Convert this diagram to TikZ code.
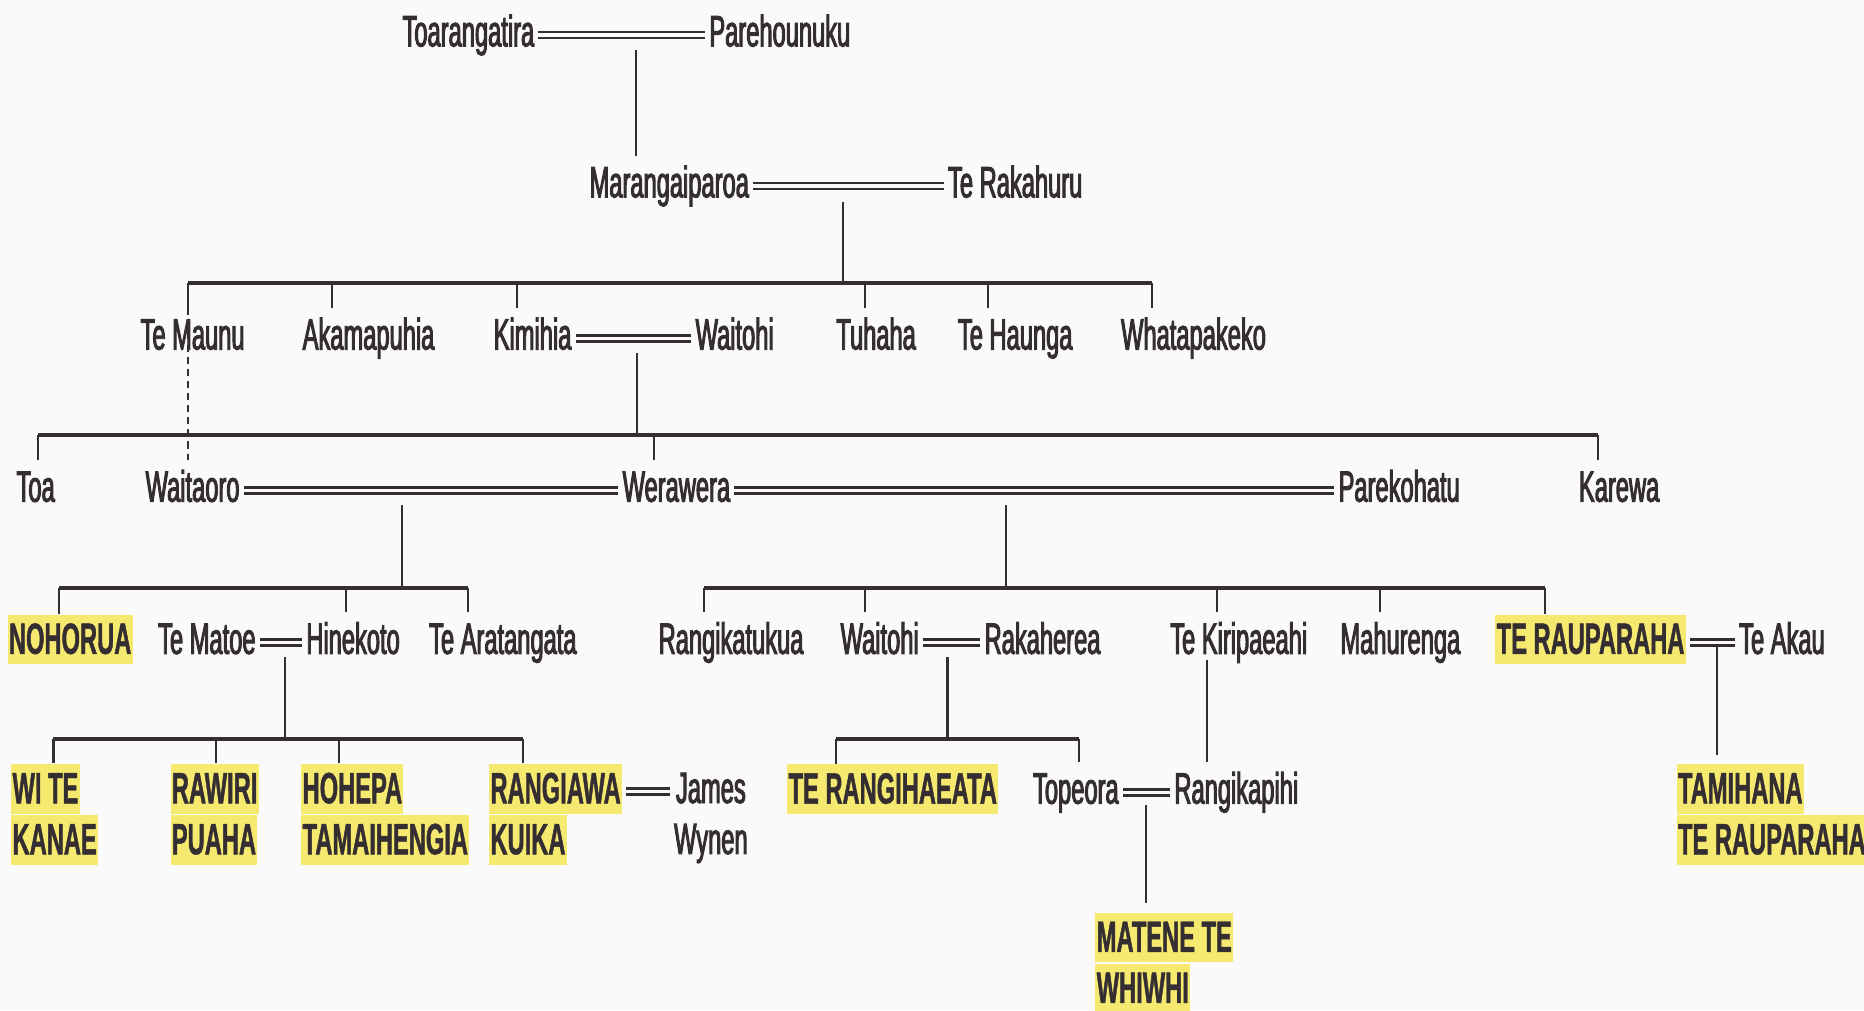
\documentclass[tikz,border=0pt]{standalone}
\usepackage{fontspec}
\newfontfamily\namefont{Liberation Sans}[FakeStretch=0.54,FakeBold=2.2]
\newfontfamily\heirfont{Liberation Sans Bold}[FakeStretch=0.54,FakeBold=1]
\newcommand\namesize{\fontsize{10.5}{12.2}\selectfont}
\definecolor{ink}{RGB}{52,46,50}
\definecolor{hlyellow}{RGB}{246,233,112}
\definecolor{paper}{RGB}{250,250,252}
\newcommand\hilite[1]{{\setlength{\fboxsep}{0.3pt}\colorbox{hlyellow}{\rule[-2.2pt]{0pt}{11.3pt}#1}}}

\begin{document}
\begin{tikzpicture}[x=0.1mm, y=-0.1mm,
	personbase/.style={font=\namefont\namesize, text=ink, inner sep=0pt, outer xsep=1pt, outer ysep=2.3pt},
	person/.style={personbase, text height=7.6pt, text depth=2.2pt, anchor=base},
	heir/.style={font=\heirfont\namesize, text=ink, inner sep=0pt, outer xsep=1pt, anchor=base},
	heirs/.style={heir, align=left, anchor=north west},
	stem/.style={draw=ink, line width=0.5pt},
	bar/.style={draw=ink, line width=0.95pt},
	wed/.style={draw=ink, double=paper, line width=0.65pt, double distance=0.8pt},
	kin/.style={stem, dash pattern=on 1.7pt off 1.2pt}]

	\fill[paper] (0,0) rectangle (1568,850);
	\useasboundingbox (0,0) rectangle (1568,850);

	% ============ GENERATION 1 ============
	\node[person] (Toarangatira) at (394,39) {Toarangatira};
	\node[person] (Parehounuku) at (656,39) {Parehounuku};
	\draw[wed] (Toarangatira) -- (Parehounuku);
	\coordinate (w1) at (535,42);

	% ============ GENERATION 2 ============
	\node[person] (Marangaiparoa) at (563,166) {Marangaiparoa};
	\node[person] (TeRakahuru) at (854,166) {Te Rakahuru};
	\draw[wed] (Marangaiparoa) -- (TeRakahuru);
	\coordinate (w2) at (709,170);
	\draw[stem] (w1) -- (w1 |- Marangaiparoa.north);

	% ============ GENERATION 3 ============
	\node[person] (TeMaunu) at (162,294) {Te Maunu};
	\node[person] (Akamapuhia) at (310,294) {Akamapuhia};
	\node[person] (Kimihia) at (448,294) {Kimihia};
	\node[person] (Waitohi) at (618,294) {Waitohi};
	\node[person] (Tuhaha) at (737,294) {Tuhaha};
	\node[person] (TeHaunga) at (854,294) {Te Haunga};
	\node[person] (Whatapakeko) at (1004,294) {Whatapakeko};
	\draw[wed] (Kimihia) -- (Waitohi);
	\coordinate (w3) at (536,297);

	% Children of Marangaiparoa
	\draw[stem] (w2) -- (709,238);
	\draw[bar] (158,238) -- (969,238);
	\foreach \x/\c in {158/TeMaunu, 279/Akamapuhia, 435/Kimihia, 728/Tuhaha, 831/TeHaunga, 969/Whatapakeko}
		\draw[stem] (\x,238) -- (\x,0 |- \c.north);

	% ============ GENERATION 4 ============
	\node[person] (Toa) at (30,422) {Toa};
	\node[person] (Waitaoro) at (162,422) {Waitaoro};
	\node[person] (Werawera) at (569,422) {Werawera};
	\node[person] (Parekohatu) at (1177,422) {Parekohatu};
	\node[person] (Karewa) at (1362,422) {Karewa};
	\draw[wed] (Waitaoro) -- (Werawera);
	\draw[wed] (Werawera) -- (Parekohatu);
	\coordinate (w4) at (338,425);
	\coordinate (w5) at (846,425);

	% Children of Kimihia, and Te Maunu (dashed)
	\draw[stem] (w3) -- (536,366);
	\draw[bar] (32,366) -- (1344,366);
	\foreach \x/\c in {32/Toa, 550/Werawera, 1344/Karewa}
		\draw[stem] (\x,366) -- (\x,0 |- \c.north);
	\draw[kin] (158,0 |- TeMaunu.north) -- (158,0 |- Waitaoro.north);

	% ============ GENERATION 5 ============
	\node[heir] (Nohorua) at (59,550) {\hilite{NOHORUA}};
	\node[person] (TeMatoe) at (174,550) {Te Matoe};
	\node[person] (Hinekoto) at (297,550) {Hinekoto};
	\node[person] (TeAratangata) at (423,550) {Te Aratangata};
	\node[person] (Rangikatukua) at (615,550) {Rangikatukua};
	\node[person] (WaitohiB) at (740,550) {Waitohi};
	\node[person] (Rakaherea) at (877,550) {Rakaherea};
	\node[person] (TeKiripaeahi) at (1042,550) {Te Kiripaeahi};
	\node[person] (Mahurenga) at (1178,550) {Mahurenga};
	\node[heir] (TeRauparaha) at (1338,550) {\hilite{TE RAUPARAHA}};
	\node[person] (TeAkau) at (1499,550) {Te Akau};
	\draw[wed] (TeMatoe) -- (Hinekoto);
	\draw[wed] (WaitohiB) -- (Rakaherea);
	\draw[wed] (TeRauparaha.east |- TeAkau.west) -- (TeAkau.west);
	\coordinate (w6) at (240,553);
	\coordinate (w7) at (797,553);
	\coordinate (w8) at (1444,543);

	% Children of Waitaoro
	\draw[stem] (w4) -- (338,495);
	\draw[bar] (50,495) -- (394,495);
	\foreach \x/\c in {50/Nohorua, 291/Hinekoto, 394/TeAratangata}
		\draw[stem] (\x,495) -- (\x,0 |- \c.north);
	% Children of Parekohatu
	\draw[stem] (w5) -- (846,495);
	\draw[bar] (592,495) -- (1300,495);
	\foreach \x/\c in {592/Rangikatukua, 728/WaitohiB, 1024/TeKiripaeahi, 1161/Mahurenga, 1300/TeRauparaha}
		\draw[stem] (\x,495) -- (\x,0 |- \c.north);

	% ============ GENERATION 6 ============
	\node[heirs] (WiTeKanae) at (6,642) {\hilite{WI TE}\\\hilite{KANAE}};
	\node[heirs] (RawiriPuaha) at (140,642) {\hilite{RAWIRI}\\\hilite{PUAHA}};
	\node[heirs] (HohepaTamaihengia) at (250,642) {\hilite{HOHEPA}\\\hilite{TAMAIHENGIA}};
	\node[heirs] (RangiawaKuika) at (408,642) {\hilite{RANGIAWA}\\\hilite{KUIKA}};
	\node[personbase, align=center, anchor=north] (JamesWynen) at (598,642) {James\\Wynen};
	\node[heir] (TeRangihaeata) at (751,676) {\hilite{TE RANGIHAEATA}};
	\node[person] (Topeora) at (905,676) {Topeora};
	\node[person] (Rangikapihi) at (1040,676) {Rangikapihi};
	\node[heirs] (Tamihana) at (1407,642) {\hilite{TAMIHANA}\\\hilite{TE RAUPARAHA}};
	\draw[wed] ([yshift=-2.4mm]RangiawaKuika.north east) -- ([yshift=-2.4mm]JamesWynen.north west);
	\draw[wed] (Topeora) -- (Rangikapihi);
	\coordinate (w9) at (964,677);

	% Children of Te Matoe
	\draw[stem] (w6) -- (240,622);
	\draw[bar] (45,622) -- (440,622);
	\foreach \x/\c in {45/WiTeKanae, 182/RawiriPuaha, 285/HohepaTamaihengia, 440/RangiawaKuika}
		\draw[stem] (\x,622) -- (\x,0 |- \c.north);
	% Children of Waitohi
	\draw[stem] (w7) -- (797,622);
	\draw[bar] (703,622) -- (908,622);
	\foreach \x/\c in {703/TeRangihaeata, 908/Topeora}
		\draw[stem] (\x,622) -- (\x,0 |- \c.north);
	% Te Kiripaeahi and Te Rauparaha lines
	\draw[stem, shorten <=1.5pt] (1015,0 |- TeKiripaeahi.base) -- (1015,0 |- Rangikapihi.north);
	\draw[stem, shorten >=2pt] (w8) -- (w8 |- Tamihana.north);

	% ============ GENERATION 7 ============
	\node[heirs] (MateneWhiwhi) at (918,767) {\hilite{MATENE TE}\\\hilite{WHIWHI}};
	\draw[stem, shorten >=2pt] (w9) -- (w9 |- MateneWhiwhi.north);

\end{tikzpicture}
\end{document}
